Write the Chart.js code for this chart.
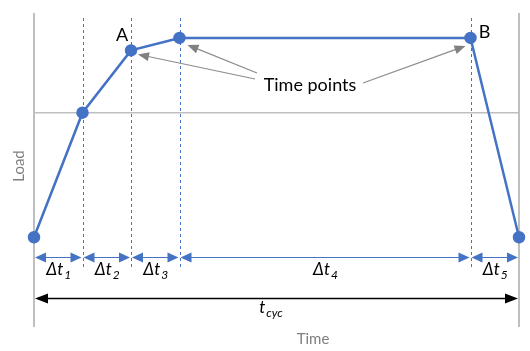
<!DOCTYPE html>
<html>
<head>
<meta charset="utf-8">
<script src="https://cdn.jsdelivr.net/npm/chart.js@4/dist/chart.umd.min.js"></script>
<style>
  html, body { margin: 0; padding: 0; background: #fff; }
  #wrap { width: 530px; height: 351px; position: relative; }
</style>
</head>
<body>
<div id="wrap"><canvas id="cycleChart"></canvas></div>
<script>
// time points of the load cycle and the load at each of them
const timeValues = [0, 1, 2, 3, 9, 10];
const loadValues = [0, 5, 7.5, 8, 8, 0];
// interval boundaries drawn as dashed lines
const markerTimes = [1, 2, 3, 9];
// interval subscripts under the double arrows
const intervalNames = ['1', '2', '3', '4', '5'];
// lettered points
const pointNames = [{ index: 2, text: 'A' }, { index: 4, text: 'B' }];
// points the "Time points" callout arrows go to
const calloutTargets = [2, 3, 4];
const xAxisTitle = 'Time';
const yAxisTitle = 'Load';
const calloutText = 'Time points';
const cycleLabel = 't';
const cycleSub = 'cyc';

const blue = '#4472C4';
const gray = '#bfbfbf';
const font = 'Lato, "Open Sans", sans-serif';

function head(ctx, x, y, ang, len, w, color) {
    ctx.save();
    ctx.translate(x, y);
    ctx.rotate(ang);
    ctx.fillStyle = color;
    ctx.beginPath();
    ctx.moveTo(0, 0);
    ctx.lineTo(-len, -w / 2);
    ctx.lineTo(-len, w / 2);
    ctx.closePath();
    ctx.fill();
    ctx.restore();
}

function doubleArrow(ctx, x1, x2, y, color, lw, len, w) {
    ctx.save();
    ctx.strokeStyle = color;
    ctx.lineWidth = lw;
    ctx.beginPath();
    ctx.moveTo(x1 + len - 1, y);
    ctx.lineTo(x2 - len + 1, y);
    ctx.stroke();
    ctx.restore();
    head(ctx, x1, y, Math.PI, len, w, color);
    head(ctx, x2, y, 0, len, w, color);
}

function subText(ctx, main, sub, cx, cy, size, color) {
    ctx.save();
    ctx.fillStyle = color;
    ctx.textBaseline = 'middle';
    ctx.textAlign = 'left';
    const f1 = 'italic ' + size + 'px ' + font;
    const f2 = 'italic ' + Math.round(size * 0.72) + 'px ' + font;
    ctx.font = f1;
    const w1 = ctx.measureText(main).width;
    ctx.font = f2;
    const w2 = ctx.measureText(sub).width;
    const x0 = cx - (w1 + w2) / 2;
    ctx.font = f1;
    ctx.fillText(main, x0, cy);
    ctx.font = f2;
    ctx.fillText(sub, x0 + w1 + 1, cy + size * 0.3);
    ctx.restore();
}

const decorations = {
    id: 'decorations',
    beforeDatasetsDraw(chart) {
        const ctx = chart.ctx;
        const xs = chart.scales.x;
        const area = chart.chartArea;
        ctx.save();
        ctx.strokeStyle = blue;
        ctx.lineWidth = 1;
        ctx.setLineDash([3, 3]);
        markerTimes.forEach(t => {
            const px = Math.round(xs.getPixelForValue(t)) + 0.5;
            ctx.beginPath();
            ctx.moveTo(px, area.top + 5);
            ctx.lineTo(px, area.top + 255);
            ctx.stroke();
        });
        ctx.restore();
    },
    afterDatasetsDraw(chart) {
        const ctx = chart.ctx;
        const xs = chart.scales.x;
        const ys = chart.scales.y;
        const area = chart.chartArea;

        // interval arrows and labels
        const arrowY = area.top + 244.5;
        for (let i = 0; i < timeValues.length - 1; i++) {
            const a = xs.getPixelForValue(timeValues[i]) + 1;
            const b = xs.getPixelForValue(timeValues[i + 1]) - 1;
            doubleArrow(ctx, a, b, arrowY, blue, 1, 11, 10);
            subText(ctx, '\u0394t', intervalNames[i], (a + b) / 2, area.top + 257, 17, '#000');
        }

        // cycle arrow
        const cycY = area.top + 285.5;
        doubleArrow(ctx, area.left + 1, area.right - 1, cycY, '#000', 1.5, 13, 10);
        subText(ctx, cycleLabel, cycleSub, (area.left + area.right) / 2 - 6, area.top + 295, 17, '#000');

        // point letters
        ctx.save();
        ctx.fillStyle = '#000';
        ctx.font = '18px ' + font;
        ctx.textAlign = 'center';
        ctx.textBaseline = 'middle';
        pointNames.forEach(p => {
            const px = xs.getPixelForValue(timeValues[p.index]);
            const py = ys.getPixelForValue(loadValues[p.index]);
            const dx = p.index === 4 ? 14 : -9;
            const dy = p.index === 4 ? -6 : -15;
            ctx.fillText(p.text, px + dx, py + dy);
        });

        // callout text
        ctx.font = '18px ' + font;
        ctx.fillText(calloutText, 310, 85);
        ctx.restore();

        // callout arrows
        const starts = [[255, 79], [257, 73], [363, 83]];
        const tipOffsets = [[7, 4], [8, 7], [-5, 8]];
        calloutTargets.forEach((idx, k) => {
            const tx = xs.getPixelForValue(timeValues[idx]) + tipOffsets[k][0];
            const ty = ys.getPixelForValue(loadValues[idx]) + tipOffsets[k][1];
            const sx = starts[k][0], sy = starts[k][1];
            const ang = Math.atan2(ty - sy, tx - sx);
            ctx.save();
            ctx.strokeStyle = '#8c8c8c';
            ctx.lineWidth = 1.2;
            ctx.beginPath();
            ctx.moveTo(sx, sy);
            ctx.lineTo(tx - Math.cos(ang) * 8, ty - Math.sin(ang) * 8);
            ctx.stroke();
            ctx.restore();
            head(ctx, tx, ty, ang, 11, 9, '#808080');
        });

        // axis titles
        ctx.save();
        ctx.fillStyle = '#7f7f7f';
        ctx.font = '15px ' + font;
        ctx.textAlign = 'center';
        ctx.textBaseline = 'middle';
        ctx.fillText(xAxisTitle, 313, 339);
        ctx.translate(19, 166);
        ctx.rotate(-Math.PI / 2);
        ctx.fillText(yAxisTitle, 0, 0);
        ctx.restore();
    }
};

new Chart(document.getElementById('cycleChart'), {
    type: 'scatter',
    data: {
        datasets: [{
            data: timeValues.map((t, i) => ({ x: t, y: loadValues[i] })),
            showLine: true,
            borderColor: blue,
            backgroundColor: blue,
            borderWidth: 2.5,
            pointRadius: 5,
            pointHoverRadius: 5,
            clip: false
        }]
    },
    options: {
        responsive: true,
        maintainAspectRatio: false,
        animation: false,
        events: [],
        layout: { padding: { left: 34, top: 13, right: 11, bottom: 24 } },
        plugins: { legend: { display: false }, tooltip: { enabled: false } },
        scales: {
            x: {
                type: 'linear',
                min: 0,
                max: 10,
                afterBuildTicks: s => { s.ticks = [{ value: 0 }, { value: 10 }]; },
                ticks: { display: false },
                grid: { color: gray, lineWidth: 2, drawTicks: false },
                border: { display: false }
            },
            y: {
                min: -3.6,
                max: 9,
                afterBuildTicks: s => { s.ticks = [{ value: 5 }]; },
                ticks: { display: false },
                grid: { color: gray, lineWidth: 1.5, drawTicks: false },
                border: { display: false }
            }
        }
    },
    plugins: [decorations]
});
</script>
</body>
</html>
